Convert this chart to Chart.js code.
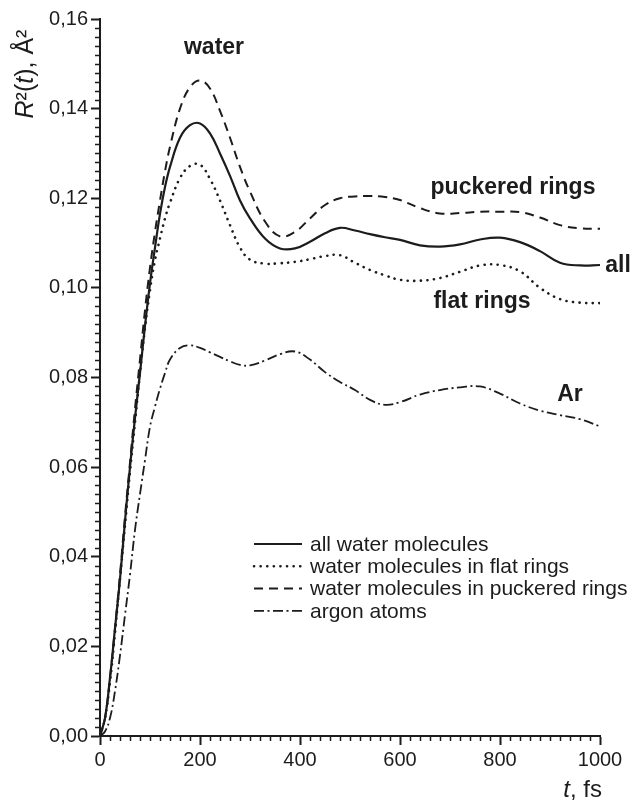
<!DOCTYPE html>
<html>
<head>
<meta charset="utf-8">
<script src="https://cdn.jsdelivr.net/npm/chart.js@4.4.1/dist/chart.umd.min.js"></script>
<style>
  html, body { margin: 0; padding: 0; background: #fff; }
  canvas { display: block; }
</style>
</head>
<body>
<canvas id="msdChart" width="639" height="805"></canvas>
<script>
// temps (fs) et valeurs R^2(t)
const times = [0, 10, 20, 30, 40, 50, 60, 70, 80, 90, 100, 110, 120, 130, 140, 160, 180, 200, 220, 240, 260, 280, 300,
  330, 360, 390, 420, 450, 480, 510, 540, 570, 600, 640, 680, 720, 760, 800, 840, 880, 920, 960, 1000];

const allWater = [0, 0.004, 0.013, 0.024, 0.035, 0.048, 0.060, 0.071, 0.081, 0.0915, 0.101, 0.109, 0.1165, 0.1225, 0.127,
  0.1335, 0.1363, 0.1367, 0.1345, 0.1300, 0.1250, 0.1195, 0.1155, 0.1110, 0.1088, 0.1088, 0.1103, 0.1122, 0.1134,
  0.1128, 0.1120, 0.1113, 0.1107, 0.1095, 0.1092, 0.1097, 0.1108, 0.1112, 0.1102, 0.1082, 0.1056, 0.1050, 0.1051];

const flatRings = [0, 0.004, 0.012, 0.023, 0.035, 0.047, 0.059, 0.070, 0.081, 0.091, 0.0995, 0.1062, 0.111, 0.1155, 0.119,
  0.1245, 0.1272, 0.1275, 0.1243, 0.1195, 0.1140, 0.1090, 0.1063, 0.1054, 0.1055, 0.1058, 0.1064, 0.1071, 0.1073,
  0.1056, 0.1040, 0.1028, 0.1018, 0.1016, 0.1022, 0.1036, 0.1050, 0.1051, 0.1037, 0.1000, 0.0975, 0.0967, 0.0966];

const puckeredRings = [0, 0.004, 0.013, 0.024, 0.036, 0.049, 0.061, 0.073, 0.084, 0.095, 0.1045, 0.1125, 0.1195, 0.126, 0.1315,
  0.140, 0.1448, 0.1463, 0.1445, 0.1395, 0.1335, 0.127, 0.1215, 0.1148, 0.1115, 0.1125, 0.1155, 0.1185, 0.1200,
  0.1204, 0.1205, 0.1203, 0.1196, 0.1178, 0.1166, 0.1167, 0.1170, 0.1170, 0.1169, 0.1157, 0.1140, 0.1133, 0.1132];

const argon = [0, 0.001, 0.004, 0.010, 0.018, 0.027, 0.036, 0.046, 0.054, 0.0616, 0.069, 0.0735, 0.0775, 0.081, 0.084,
  0.0866, 0.0872, 0.0866, 0.0856, 0.0846, 0.0836, 0.0828, 0.0827, 0.0838, 0.0852, 0.0858, 0.0840, 0.0812, 0.0790,
  0.0772, 0.0750, 0.0739, 0.0745, 0.0762, 0.0772, 0.0778, 0.0780, 0.0764, 0.0742, 0.0726, 0.0716, 0.0707, 0.0691];

const seriesLabels = ['all water molecules', 'water molecules in flat rings', 'water molecules in puckered rings', 'argon atoms'];

// étiquettes dans le graphique : [texte, t, R2]
const curveLabels = [
  ['water', 228, 0.1535],
  ['puckered rings', 826, 0.1223],
  ['all', 1036, 0.1050],
  ['flat rings', 764, 0.0969],
  ['Ar', 940, 0.0761]
];

const INK = '#1c1c1c';
const FONT = '"Liberation Sans", Arial, sans-serif';

const toPoints = (vals) => vals.map((v, i) => ({ x: times[i], y: v }));

// petites graduations + textes (titres d'axes, légende, étiquettes)
const extrasPlugin = {
  id: 'extras',
  afterDraw(chart) {
    const ctx = chart.ctx;
    const xs = chart.scales.x, ys = chart.scales.y;
    const area = chart.chartArea;

    ctx.save();
    ctx.strokeStyle = INK;
    ctx.lineWidth = 1.5;
    ctx.beginPath();
    for (let i = 0; i <= 50; i++) {
      if (i % 10 === 0) continue;
      const px = Math.round(xs.getPixelForValue(i * 20)) + 0.5;
      ctx.moveTo(px, area.bottom);
      ctx.lineTo(px, area.bottom + 5);
    }
    for (let i = 0; i <= 80; i++) {
      if (i % 10 === 0) continue;
      const py = Math.round(ys.getPixelForValue(i * 0.002)) + 0.5;
      ctx.moveTo(area.left - 5, py);
      ctx.lineTo(area.left, py);
    }
    ctx.stroke();

    // étiquettes des courbes
    ctx.fillStyle = INK;
    ctx.font = 'bold 23px ' + FONT;
    ctx.textAlign = 'center';
    ctx.textBaseline = 'middle';
    curveLabels.forEach(([txt, t, r]) => {
      ctx.fillText(txt, xs.getPixelForValue(t), ys.getPixelForValue(r));
    });

    // légende
    const legX = 254, legY = 544, rowH = 22.3;
    chart.data.datasets.forEach((ds, i) => {
      const y = legY + i * rowH;
      ctx.save();
      ctx.strokeStyle = ds.borderColor;
      ctx.lineWidth = ds.borderWidth;
      ctx.lineCap = ds.borderCapStyle || 'butt';
      ctx.setLineDash(ds.borderDash || []);
      ctx.beginPath();
      ctx.moveTo(legX, y);
      ctx.lineTo(legX + 48, y);
      ctx.stroke();
      ctx.restore();
      ctx.font = '21px ' + FONT;
      ctx.textAlign = 'left';
      ctx.fillStyle = INK;
      ctx.fillText(ds.label, legX + 56, y + 1);
    });

    // titres des axes (italique pour R et t)
    const runs = (parts, x, y, size) => {
      let cx = x;
      parts.forEach(([txt, it]) => {
        ctx.font = (it ? 'italic ' : '') + size + 'px ' + FONT;
        ctx.fillText(txt, cx, y);
        cx += ctx.measureText(txt).width;
      });
    };
    const measure = (parts, size) => parts.reduce((w, [txt, it]) => {
      ctx.font = (it ? 'italic ' : '') + size + 'px ' + FONT;
      return w + ctx.measureText(txt).width;
    }, 0);

    ctx.textAlign = 'left';
    const xTitle = [['t', true], [', fs', false]];
    runs(xTitle, area.right - measure(xTitle, 24) + 2, 790, 24);

    const yTitle = [['R', true], ['\u00B2(', false], ['t', true], ['), \u00C5\u00B2', false]];
    ctx.save();
    ctx.translate(26, 74);
    ctx.rotate(-Math.PI / 2);
    runs(yTitle, -measure(yTitle, 25) / 2, 0, 25);
    ctx.restore();

    ctx.restore();
  }
};

const ctx = document.getElementById('msdChart').getContext('2d');
new Chart(ctx, {
  type: 'line',
  data: {
    datasets: [
      { label: seriesLabels[0], data: toPoints(allWater), borderColor: INK, borderWidth: 2.2 },
      { label: seriesLabels[1], data: toPoints(flatRings), borderColor: INK, borderWidth: 2.6,
        borderDash: [0.1, 6.5], borderCapStyle: 'round' },
      { label: seriesLabels[2], data: toPoints(puckeredRings), borderColor: INK, borderWidth: 2,
        borderDash: [9, 6] },
      { label: seriesLabels[3], data: toPoints(argon), borderColor: INK, borderWidth: 1.8,
        borderDash: [10, 3.5, 2, 3.5] }
    ]
  },
  options: {
    responsive: false,
    animation: false,
    devicePixelRatio: 1,
    elements: {
      point: { radius: 0 },
      line: { tension: 0.4, fill: false }
    },
    layout: { padding: { top: 19, right: 39, left: 0, bottom: 0 } },
    scales: {
      x: {
        type: 'linear',
        min: 0,
        max: 1000,
        ticks: { stepSize: 200, color: INK, font: { family: FONT, size: 20 }, padding: 3, maxRotation: 0,
          callback: (v) => String(v) },
        grid: { drawOnChartArea: false, drawTicks: true, tickLength: 9, tickWidth: 2, tickColor: INK },
        border: { display: true, width: 2, color: INK },
        afterFit: (s) => { s.height = 69; }
      },
      y: {
        min: 0,
        max: 0.16,
        ticks: {
          stepSize: 0.02, color: INK, font: { family: FONT, size: 20 }, padding: 3,
          callback: (v) => v.toFixed(2).replace('.', ',')
        },
        grid: { drawOnChartArea: false, drawTicks: true, tickLength: 9, tickWidth: 2, tickColor: INK },
        border: { display: true, width: 2, color: INK },
        afterFit: (s) => { s.width = 100; }
      }
    },
    plugins: {
      legend: { display: false },
      tooltip: { enabled: false },
      title: { display: false }
    }
  },
  plugins: [extrasPlugin]
});
</script>
</body>
</html>
